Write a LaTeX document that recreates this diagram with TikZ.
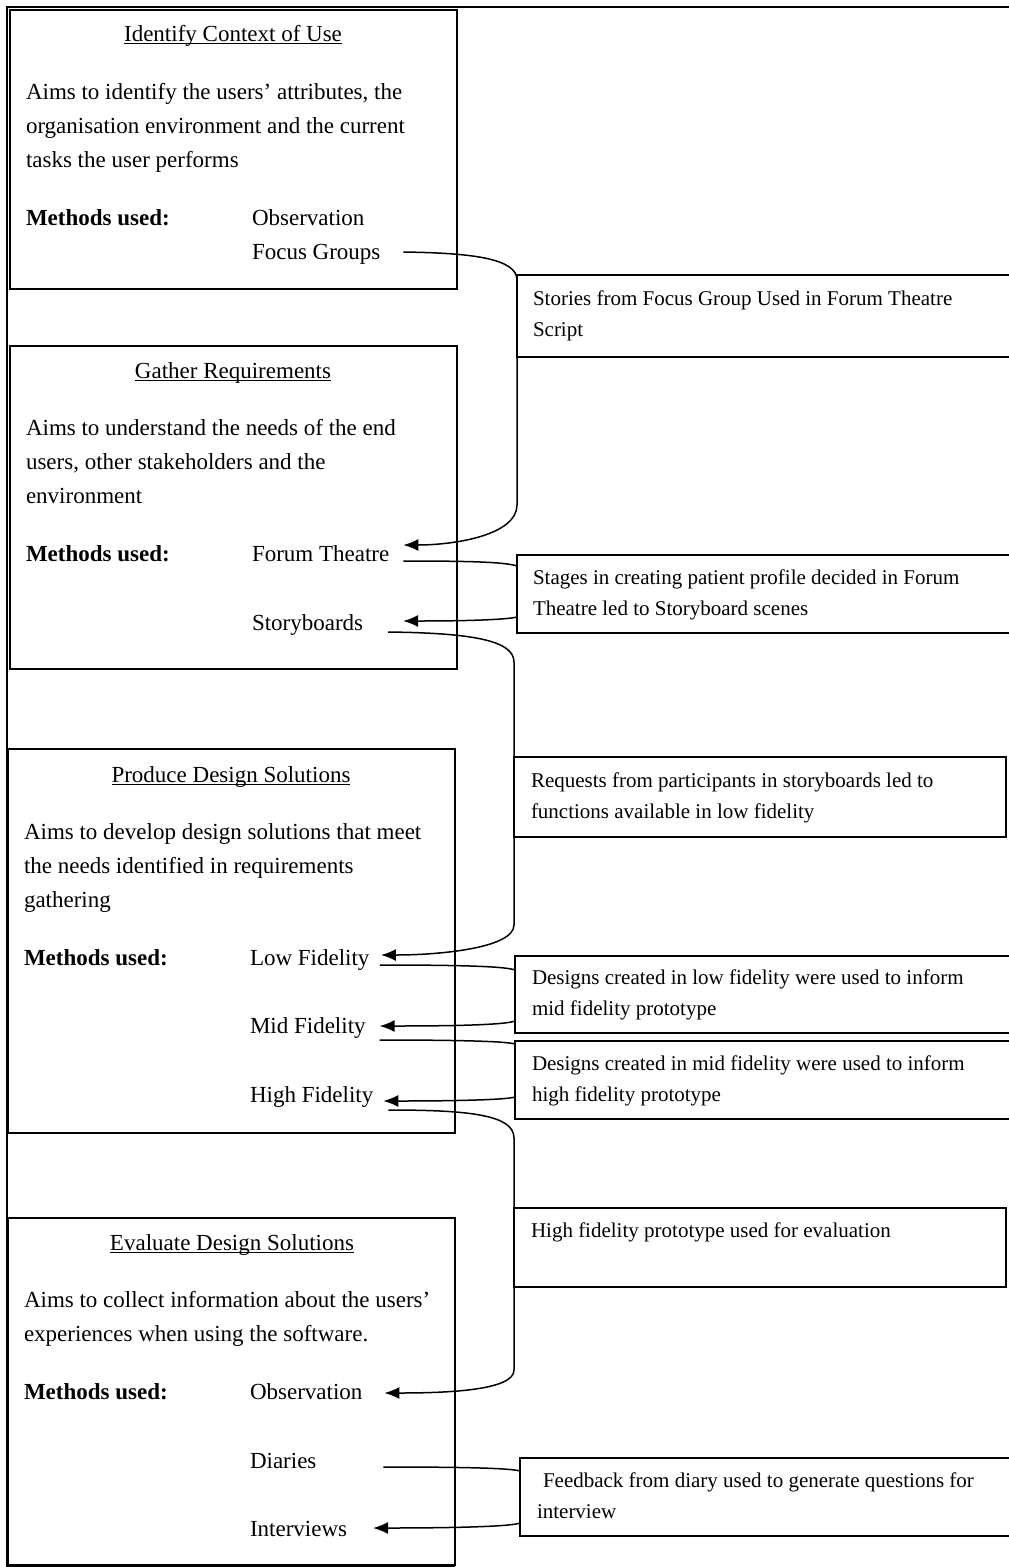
\documentclass[tikz,border=0pt]{standalone}
\usepackage{fontspec}
\setmainfont{Liberation Serif}
\usetikzlibrary{arrows.meta}
% underlined heading text
\newcommand\ulx[1]{\setbox0\hbox{#1}\rlap{\rule[-3pt]{\wd0}{1.2pt}}\box0}
\newcommand\tstrut{\rule{0pt}{20pt}}
\newcommand\sstrut{\rule{0pt}{18pt}}
\begin{document}
\begin{tikzpicture}[x=1pt,y=-1pt,
  lbox/.style={draw, line width=1.8pt, anchor=north west, inner sep=0pt, outer sep=0pt},
  rbox/.style={draw, line width=1.6pt, anchor=north west, inner sep=0pt, outer sep=0pt},
  big/.style={font=\fontsize{23}{34}\selectfont, inner sep=0pt, outer sep=0pt, align=left},
  small/.style={font=\fontsize{21}{31}\selectfont, inner sep=0pt, outer sep=0pt, align=left},
  head/.style={big, anchor=base},
  item/.style={big, anchor=base west},
  para/.style={big, anchor=north west},
  note/.style={small, anchor=north west},
  link/.style={line width=1.5pt},
  arr/.style={link, -{Latex[length=15pt,width=12pt,fill=black]}}]
\useasboundingbox (0,0) rectangle (1009,1567);
\clip (0,0) rectangle (1009,1567);

% outer frame
\draw[line width=1.6pt] (1012,7) -- (7,7) -- (7,1566) -- (455,1566);

% ---------- stage boxes ----------
\node[lbox, minimum width=447pt, minimum height=279pt] (b1) at (10,10) {};
\node[lbox, minimum width=447pt, minimum height=323pt] (b2) at (10,346) {};
\node[lbox, minimum width=447pt, minimum height=384pt] (b3) at (8,749) {};
\node[lbox, minimum width=447pt, minimum height=347pt] (b4) at (8,1218) {};

% Identify Context of Use
\node[head] (t1) at (233,41) {\ulx{Identify Context of Use}};
\node[para] (p1) at (26,79) {\tstrut Aims to identify the users’ attributes, the\\organisation environment and the current\\tasks the user performs};
\node[item] (m1) at (26,225) {\textbf{Methods used:}};
\node[item] (o1) at (252,225) {Observation};
\node[item] (fg) at (252,259) {Focus Groups};

% Gather Requirements
\node[head] (t2) at (233,378) {\ulx{Gather Requirements}};
\node[para] (p2) at (26,415) {\tstrut Aims to understand the needs of the end\\users, other stakeholders and the\\environment};
\node[item] (m2) at (26,561) {\textbf{Methods used:}};
\node[item] (ft) at (252,561) {Forum Theatre};
\node[item] (sb) at (252,630) {Storyboards};

% Produce Design Solutions
\node[head] (t3) at (231,782) {\ulx{Produce Design Solutions}};
\node[para] (p3) at (24,819) {\tstrut Aims to develop design solutions that meet\\the needs identified in requirements\\gathering};
\node[item] (m3) at (24,965) {\textbf{Methods used:}};
\node[item] (lf) at (250,965) {Low Fidelity};
\node[item] (mf) at (250,1033) {Mid Fidelity};
\node[item] (hf) at (250,1102) {High Fidelity};

% Evaluate Design Solutions
\node[head] (t4) at (232,1250) {\ulx{Evaluate Design Solutions}};
\node[para] (p4) at (24,1287) {\tstrut Aims to collect information about the users’\\experiences when using the software.};
\node[item] (m4) at (24,1399) {\textbf{Methods used:}};
\node[item] (ob) at (250,1399) {Observation};
\node[item] (di) at (250,1468) {Diaries};
\node[item] (iv) at (250,1536) {Interviews};

% ---------- link notes ----------
\node[rbox, minimum width=495pt, minimum height=82pt] (r1) at (517,275) {};
\node[rbox, minimum width=495pt, minimum height=78pt] (r2) at (517,555) {};
\node[rbox, minimum width=492pt, minimum height=80pt] (r3) at (514,757) {};
\node[rbox, minimum width=497pt, minimum height=77pt] (r4) at (515,956) {};
\node[rbox, minimum width=497pt, minimum height=78pt] (r5) at (515,1041) {};
\node[rbox, minimum width=492pt, minimum height=79pt] (r6) at (514,1208) {};
\node[rbox, minimum width=492pt, minimum height=78pt] (r7) at (520,1458) {};

\node[note] (n1) at (533,287.5) {\sstrut Stories from Focus Group Used in Forum Theatre\\Script};
\node[note] (n2) at (533,566.5) {\sstrut Stages in creating patient profile decided in Forum\\Theatre led to Storyboard scenes};
\node[note] (n3) at (531,769.5) {\sstrut Requests from participants in storyboards led to\\functions available in low fidelity};
\node[note] (n4) at (532,966.5) {\sstrut Designs created in low fidelity were used to inform\\mid fidelity prototype};
\node[note] (n5) at (532,1052.5) {\sstrut Designs created in mid fidelity were used to inform\\high fidelity prototype};
\node[note] (n6) at (531,1219.5) {\sstrut High fidelity prototype used for evaluation};
\node[note] (n7) at (537,1469.5) {\sstrut\hspace*{6pt}Feedback from diary used to generate questions for\\interview};

% ---------- connector ends ----------
\coordinate (c1s) at ([shift={(23,-7)}]fg.base east);
\coordinate (c1e) at ([shift={(14,-16)}]ft.base east);
\coordinate (c2s) at ([shift={(14,0)}]ft.base east);
\coordinate (c2e) at ([shift={(40,-9)}]sb.base east);
\coordinate (c3s) at ([shift={(25,2)}]sb.base east);
\coordinate (c3e) at ([shift={(11.5,-10)}]lf.base east);
\coordinate (c4s) at ([shift={(10.5,0)}]lf.base east);
\coordinate (c4e) at ([shift={(14,-7)}]mf.base east);
\coordinate (c5s) at ([shift={(14,7)}]mf.base east);
\coordinate (c5e) at ([shift={(10,-1)}]hf.base east);
\coordinate (c6s) at ([shift={(15,8)}]hf.base east);
\coordinate (c6e) at ([shift={(22,-6)}]ob.base east);
\coordinate (c7s) at ([shift={(67,-1)}]di.base east);
\coordinate (c7e) at ([shift={(26,-8)}]iv.base east);

% ---------- connectors ----------
\draw[arr] (c1s) .. controls (470,253) and (517,258) .. ([shift={(0,5)}]r1.north west)
  -- (517,505) .. controls (517,535) and (455,545) .. (c1e);
\draw[link] (c2s) .. controls (470,561) and (505,562) .. ([shift={(0,11)}]r2.north west);
\draw[arr] ([shift={(0,62)}]r2.north west) .. controls (505,620) and (460,621) .. (c2e);
\draw[arr] (c3s) .. controls (470,633) and (514,640) .. (514,662)
  -- (r3.north west) -- (514,925) .. controls (514,948) and (440,955) .. (c3e);
\draw[link] (c4s) .. controls (450,965) and (505,966) .. ([shift={(0,14)}]r4.north west);
\draw[arr] ([shift={(0,65)}]r4.north west) .. controls (505,1025) and (450,1026) .. (c4e);
\draw[link] (c5s) .. controls (450,1040) and (505,1041) .. ([shift={(0,3)}]r5.north west);
\draw[arr] ([shift={(0,56)}]r5.north west) .. controls (505,1100) and (450,1101) .. (c5e);
\draw[arr] (c6s) .. controls (470,1110) and (514,1115) .. (514,1138)
  -- (r6.north west) -- (514,1370) .. controls (514,1390) and (450,1393) .. (c6e);
\draw[link] (c7s) .. controls (460,1467) and (510,1468) .. ([shift={(0,13)}]r7.north west);
\draw[arr] ([shift={(0,65)}]r7.north west) .. controls (510,1527) and (440,1528) .. (c7e);
\end{tikzpicture}
\end{document}
